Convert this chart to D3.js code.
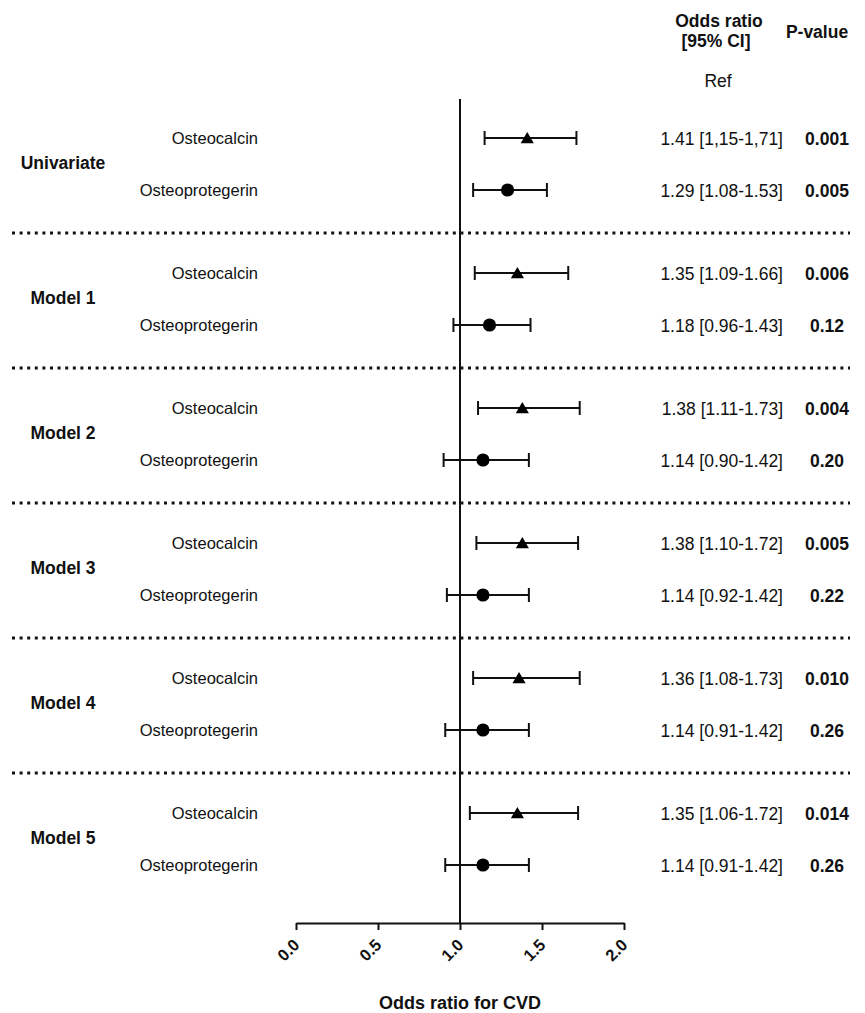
<!DOCTYPE html>
<html>
<head>
<meta charset="utf-8">
<script src="https://cdn.jsdelivr.net/npm/d3@7"></script>
<style>
  body { margin: 0; background: #fff; }
  text { font-family: "Liberation Sans", Arial, sans-serif; fill: #111; }
</style>
</head>
<body>
<svg width="865" height="1013"></svg>
<script>
// chart data
const groups = ['Univariate', 'Model 1', 'Model 2', 'Model 3', 'Model 4', 'Model 5'];
const markers = ['Osteocalcin', 'Osteoprotegerin'];

const oscOR   = [1.41, 1.35, 1.38, 1.38, 1.36, 1.35];
const oscLow  = [1.15, 1.09, 1.11, 1.10, 1.08, 1.06];
const oscHigh = [1.71, 1.66, 1.73, 1.72, 1.73, 1.72];
const oscText = ['1.41 [1,15-1,71]', '1.35 [1.09-1.66]', '1.38 [1.11-1.73]', '1.38 [1.10-1.72]', '1.36 [1.08-1.73]', '1.35 [1.06-1.72]'];
const oscP    = ['0.001', '0.006', '0.004', '0.005', '0.010', '0.014'];

const opgOR   = [1.29, 1.18, 1.14, 1.14, 1.14, 1.14];
const opgLow  = [1.08, 0.96, 0.90, 0.92, 0.91, 0.91];
const opgHigh = [1.53, 1.43, 1.42, 1.42, 1.42, 1.42];
const opgText = ['1.29 [1.08-1.53]', '1.18 [0.96-1.43]', '1.14 [0.90-1.42]', '1.14 [0.92-1.42]', '1.14 [0.91-1.42]', '1.14 [0.91-1.42]'];
const opgP    = ['0.005', '0.12', '0.20', '0.22', '0.26', '0.26'];

const xTicks = [0, 0.5, 1.0, 1.5, 2.0];

// build rows
const rows = [];
groups.forEach((g, i) => {
  rows.push({group: i, marker: markers[0], or: oscOR[i], lo: oscLow[i], hi: oscHigh[i], txt: oscText[i], p: oscP[i], offset: 27, shape: 'tri'});
  rows.push({group: i, marker: markers[1], or: opgOR[i], lo: opgLow[i], hi: opgHigh[i], txt: opgText[i], p: opgP[i], offset: 79, shape: 'circ'});
});

const svg = d3.select('svg');

const x = d3.scaleLinear().domain([0, 2]).range([296, 624]);
const y = d3.scaleLinear().domain([0, 6]).range([111, 921]);
const axisY = 923;

// header
const header = svg.append('g');
header.append('text').attr('x', 719).attr('y', 27).attr('text-anchor', 'middle')
  .attr('font-size', 17.5).attr('font-weight', 'bold').text('Odds ratio');
header.append('text').attr('x', 716).attr('y', 47).attr('text-anchor', 'middle')
  .attr('font-size', 17.5).attr('font-weight', 'bold').text('[95% CI]');
header.append('text').attr('x', 817).attr('y', 38).attr('text-anchor', 'middle')
  .attr('font-size', 17.5).attr('font-weight', 'bold').text('P-value');
header.append('text').attr('x', 718).attr('y', 87).attr('text-anchor', 'middle')
  .attr('font-size', 17.5).text('Ref');

// separators
svg.selectAll('.sep').data(groups.slice(0, -1))
  .enter().append('line')
    .attr('class', 'sep')
    .attr('x1', 12).attr('x2', 850)
    .attr('y1', (d, i) => y(i) + 122).attr('y2', (d, i) => y(i) + 122)
    .attr('stroke', '#111')
    .attr('stroke-width', 3)
    .attr('stroke-dasharray', '3 4.6');

// group labels
svg.selectAll('.glabel').data(groups)
  .enter().append('text')
    .attr('class', 'glabel')
    .attr('x', 63)
    .attr('y', (d, i) => y(i) + 58)
    .attr('text-anchor', 'middle')
    .attr('font-size', 17.5)
    .attr('font-weight', 'bold')
    .text(d => d);

// reference line at 1
svg.append('line')
  .attr('x1', x(1)).attr('x2', x(1))
  .attr('y1', 99).attr('y2', axisY)
  .attr('stroke', '#111').attr('stroke-width', 2);

// axis
const axisG = svg.append('g')
  .attr('transform', `translate(0,${axisY})`)
  .call(d3.axisBottom(x).tickValues(xTicks).tickFormat(d3.format('.1f')).tickSize(7).tickSizeOuter(0));
axisG.select('.domain').attr('stroke', '#111').attr('stroke-width', 2);
axisG.selectAll('.tick line').attr('stroke', '#111').attr('stroke-width', 2);
axisG.selectAll('.tick text')
  .attr('font-family', '"Liberation Sans", Arial, sans-serif')
  .attr('font-size', 16.5)
  .attr('font-weight', 'bold')
  .attr('fill', '#111')
  .attr('text-anchor', 'end')
  .attr('dy', null)
  .attr('transform', 'translate(4,23) rotate(-45)')
  .attr('x', 0).attr('y', 0);

svg.append('text')
  .attr('x', x(1)).attr('y', 1009)
  .attr('text-anchor', 'middle')
  .attr('font-size', 18).attr('font-weight', 'bold')
  .text('Odds ratio for CVD');

// rows
const rowG = svg.selectAll('.row').data(rows)
  .enter().append('g')
    .attr('class', 'row')
    .attr('transform', d => `translate(0,${y(d.group) + d.offset})`);

rowG.append('text')
  .attr('x', 258).attr('y', 6)
  .attr('text-anchor', 'end')
  .attr('font-size', 16.5)
  .text(d => d.marker);

rowG.append('line')
  .attr('x1', d => x(d.lo)).attr('x2', d => x(d.hi))
  .attr('stroke', '#111').attr('stroke-width', 2);
rowG.selectAll('.cap').data(d => [d.lo, d.hi])
  .enter().append('line')
    .attr('x1', d => x(d)).attr('x2', d => x(d))
    .attr('y1', -7).attr('y2', 7)
    .attr('stroke', '#111').attr('stroke-width', 2);

const tri = d3.symbol().type(d3.symbolTriangle).size(75);
const circ = d3.symbol().type(d3.symbolCircle).size(135);
rowG.append('path')
  .attr('transform', d => `translate(${x(d.or)},${d.shape === 'tri' ? 1.5 : 0})`)
  .attr('d', d => d.shape === 'tri' ? tri() : circ())
  .attr('fill', '#000');

rowG.append('text')
  .attr('x', 783).attr('y', 7)
  .attr('text-anchor', 'end')
  .attr('font-size', 17.5)
  .text(d => d.txt);

rowG.append('text')
  .attr('x', 827).attr('y', 7)
  .attr('text-anchor', 'middle')
  .attr('font-size', 17.5)
  .attr('font-weight', 'bold')
  .text(d => d.p);
</script>
</body>
</html>
